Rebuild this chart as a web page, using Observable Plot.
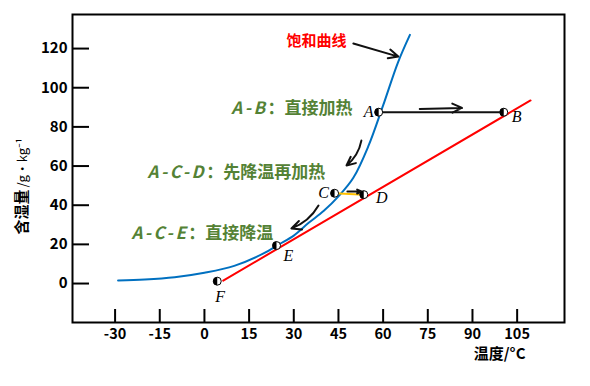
<!DOCTYPE html>
<html><head><meta charset="utf-8">
<script src="https://cdn.jsdelivr.net/npm/d3@7"></script>
<script src="https://cdn.jsdelivr.net/npm/@observablehq/plot@0.6"></script>
<style>
html,body{margin:0;padding:0;background:#fff;overflow:hidden;}
g[font-style="italic"][font-weight="bold"] text{letter-spacing:2.5px;}
</style>
</head><body><div id="chart"></div>
<script>
// ---- data ----
const xTicks = [-30, -15, 0, 15, 30, 45, 60, 75, 90, 105];
const yTicks = [0, 20, 40, 60, 80, 100, 120];

// saturation curve (temperature °C, moisture g/kg)
const satT = [-29, -20, -10, 0, 10, 20, 25, 30, 35, 40, 45, 50, 55, 60, 65, 69];
const satW = [1.5, 2.0, 3.2, 5.5, 9.0, 15.5, 20, 24.5, 31, 37, 44.5, 54, 70, 91, 113, 127];

// red process line
const lineT = [6.3, 109.5];
const lineW = [1.5, 93.5];

// state points
const ptName = ["A", "B", "C", "D", "E", "F"];
const ptT = [58.5, 100.5, 43.7, 53.5, 24.2, 4.3];
const ptW = [87.5, 87.5, 46.1, 45.4, 19.4, 1.2];

// arrows (start/end in data units)
const arrT1 = [72.3, 50.0, 48.0, 52.7, 38.3];
const arrW1 = [89.2, 122.6, 47.0, 73.0, 39.8];
const arrT2 = [86.5, 65.1, 52.7, 47.7, 29.2];
const arrW2 = [89.7, 115.9, 47.0, 60.3, 28.1];

// annotations
const noteKey = ["A-B", "A-C-D", "A-C-E"];
const noteText = ["：直接加热", "：先降温再加热", "：直接降温"];
const noteT = [21.2, 0.6, -5.4];
const noteW = [89.4, 56.8, 25.5];
const satLabel = "饱和曲线";
const satLabelT = 37.6, satLabelW = 123.7;
const xLabel = "温度/°C";
const yLabelMain = "含湿量";
const yLabelUnit = "/g·kg⁻¹";

// ---- styles ----
const labelDx = {A: -10, B: 13, C: -11, D: 18, E: 12, F: 3};
const labelDy = {A: 0, B: 5, C: 0, D: 3, E: 10, F: 16};
const green = "#548235";
const cjk = "'Noto Sans CJK SC', 'Noto Sans', sans-serif";

const halfLeft = {
  draw(ctx, size) {
    const r = Math.sqrt(size / Math.PI);
    ctx.moveTo(0, -r);
    ctx.arc(0, 0, r, -Math.PI / 2, Math.PI / 2, true);
    ctx.closePath();
  }
};

const sat = satT.map((t, i) => ({t, w: satW[i]}));
const red = lineT.map((t, i) => ({t, w: lineW[i]}));
const pts = ptName.map((n, i) => ({n, t: ptT[i], w: ptW[i]}));
const arr = arrT1.map((t, i) => ({x1: t, y1: arrW1[i], x2: arrT2[i], y2: arrW2[i]}));
const notes = noteKey.map((k, i) => ({k, s: noteText[i], t: noteT[i], w: noteW[i]}));
const byName = Object.fromEntries(pts.map(p => [p.n, p]));

const chart = Plot.plot({
  width: 590, height: 386,
  marginLeft: 72, marginRight: 26, marginTop: 14, marginBottom: 64,
  style: {fontFamily: cjk, background: "#fff"},
  x: {domain: [-44.3, 120.9]},
  y: {domain: [-19.9, 137.4]},
  marks: [
    Plot.line(sat, {x: "t", y: "w", curve: "catmull-rom", stroke: "#0070c0", strokeWidth: 2}),
    Plot.line(red, {x: "t", y: "w", stroke: "#ff0000", strokeWidth: 2}),
    Plot.link([[byName.C, byName.D]], {x1: d => d[0].t, y1: d => d[0].w, x2: d => d[1].t, y2: d => d[1].w, stroke: "#ffc000", strokeWidth: 2}),
    Plot.link([[byName.A, byName.B]], {x1: d => d[0].t, y1: d => d[0].w, x2: d => d[1].t, y2: d => d[1].w, stroke: "#111", strokeWidth: 2}),
    Plot.arrow(arr.slice(0, 3), {x1: "x1", y1: "y1", x2: "x2", y2: "y2", stroke: "#111", strokeWidth: 2, headLength: 8, headAngle: 50}),
    Plot.arrow(arr.slice(3), {x1: "x1", y1: "y1", x2: "x2", y2: "y2", bend: 20, stroke: "#111", strokeWidth: 2, headLength: 8, headAngle: 50}),
    Plot.dot(pts, {x: "t", y: "w", r: 4, fill: "#fff", stroke: "#000", strokeWidth: 1}),
    Plot.dot(pts, {x: "t", y: "w", r: 4, symbol: halfLeft, fill: "#000", stroke: "none"}),
    ...ptName.map(n => Plot.text([byName[n]], {x: "t", y: "w", text: "n", dx: labelDx[n], dy: labelDy[n], fontFamily: "'Liberation Serif', serif", fontStyle: "italic", fontSize: 16, fill: "#000"})),
    Plot.text(notes, {x: "t", y: "w", text: "k", textAnchor: "end", fontStyle: "italic", fontWeight: "bold", fontSize: 17, fill: green}),
    Plot.text(notes, {x: "t", y: "w", text: "s", textAnchor: "start", fontWeight: "bold", fontSize: 17, fill: green}),
    Plot.text([satLabel], {x: () => satLabelT, y: () => satLabelW, text: d => d, fontWeight: "bold", fontSize: 15, fill: "#ff0000"}),
    Plot.frame({stroke: "#000", strokeWidth: 2}),
    Plot.tickX(xTicks, {x: d => d, insetTop: 295, stroke: "#000", strokeWidth: 2}),
    Plot.tickY(yTicks, {y: d => d, insetRight: 475, stroke: "#000", strokeWidth: 2}),
    Plot.axisX({ticks: xTicks, tickFormat: d => String(d), tickSize: 0, tickPadding: 6, label: null, fontSize: 14.5, fontWeight: "bold", fill: "#000"}),
    Plot.axisY({ticks: yTicks, tickFormat: d => String(d), tickSize: 0, tickPadding: 5, label: null, fontSize: 15, fontWeight: "bold", fill: "#000"}),
    Plot.text([xLabel], {frameAnchor: "bottom-right", text: d => d, textAnchor: "end", dx: -39, dy: 36, fontWeight: "bold", fontSize: 15, fill: "#000"}),
    Plot.text([yLabelMain], {frameAnchor: "bottom-left", text: d => d, rotate: -90, textAnchor: "start", dx: -46, dy: -88, fontWeight: "bold", fontSize: 15, fill: "#000"}),
    Plot.text([yLabelUnit], {frameAnchor: "bottom-left", text: d => d, rotate: -90, textAnchor: "start", dx: -46, dy: -135, fontSize: 13, fill: "#000"})
  ]
});
document.getElementById("chart").append(chart);
</script>
</body></html>
